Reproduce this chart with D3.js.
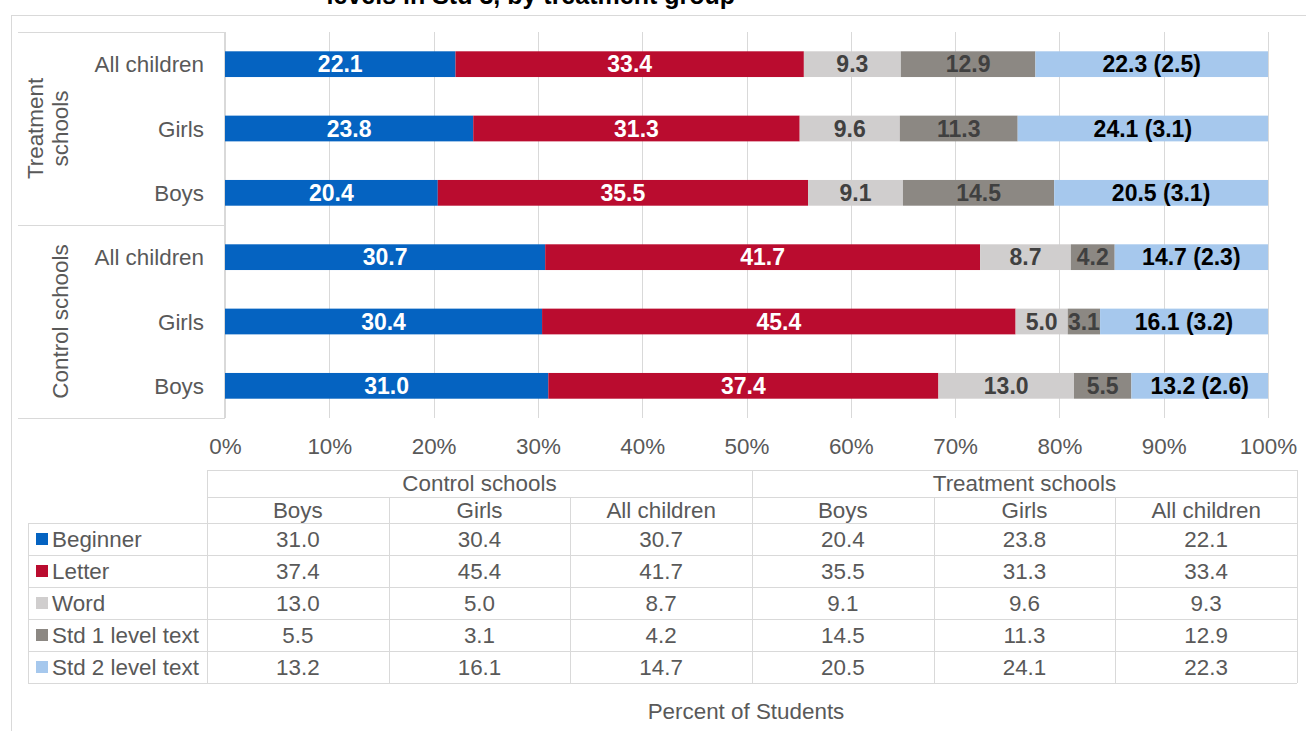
<!DOCTYPE html>
<html>
<head>
<meta charset="utf-8">
<script src="https://cdn.jsdelivr.net/npm/d3@7"></script>
<style>
  html, body { margin: 0; padding: 0; background: #fff; overflow: hidden; }
  svg { display: block; font-family: "Liberation Sans", Arial, sans-serif; }
</style>
</head>
<body>
<svg id="chart" width="1306" height="731"></svg>
<script>
// rows top to bottom
const groups = ["Treatment schools", "Control schools"];
const rowGroups = ["Treatment schools", "Treatment schools", "Treatment schools", "Control schools", "Control schools", "Control schools"];
const rowLabels = ["All children", "Girls", "Boys", "All children", "Girls", "Boys"];

const levels = ["Beginner", "Letter", "Word", "Std 1 level text", "Std 2 level text"];
const levelColors = ["#0563C1", "#BA0C2F", "#D0CECE", "#8C8883", "#A6C8ED"];
const labelColors = ["#ffffff", "#ffffff", "#404040", "#404040", "#000000"];

const beginner = [22.1, 23.8, 20.4, 30.7, 30.4, 31.0];
const letter = [33.4, 31.3, 35.5, 41.7, 45.4, 37.4];
const word = [9.3, 9.6, 9.1, 8.7, 5.0, 13.0];
const std1 = [12.9, 11.3, 14.5, 4.2, 3.1, 5.5];
const std2 = [22.3, 24.1, 20.5, 14.7, 16.1, 13.2];
const std2SE = [2.5, 3.1, 3.1, 2.3, 3.2, 2.6];

const tickValues = [0, 10, 20, 30, 40, 50, 60, 70, 80, 90, 100];

// data table columns (control first, then treatment)
const tableGroups = ["Control schools", "Treatment schools"];
const tableCols = ["Boys", "Girls", "All children", "Boys", "Girls", "All children"];
const tableRowIndex = [5, 4, 3, 2, 1, 0];

const TEXT = "#595959";
const LINE = "#D9D9D9";
const FS = "22.4px";

const series = [beginner, letter, word, std1, std2];
const rows = rowLabels.map((label, i) => {
  const r = { id: i, label: label, group: rowGroups[i], se: std2SE[i] };
  levels.forEach((k, j) => { r[k] = series[j][i]; });
  return r;
});

const svg = d3.select("#chart");

// title, mostly cut off at the top edge
svg.append("text")
  .attr("x", 735).attr("y", 4)
  .attr("text-anchor", "end")
  .attr("font-size", "25px").attr("font-weight", "bold")
  .attr("fill", "#000")
  .text("levels in Std 3, by treatment group");

// outer frame
svg.append("rect")
  .attr("x", 11.5).attr("y", 15.5)
  .attr("width", 1310).attr("height", 730)
  .attr("fill", "none").attr("stroke", LINE);

const x = d3.scaleLinear().domain([0, 100]).range([225, 1268]).clamp(true);
const y = d3.scaleBand().domain(rows.map(r => r.id)).range([32, 418]).paddingInner(0.6).paddingOuter(0.3);

// gridlines
svg.append("g").selectAll("line")
  .data(tickValues)
  .join("line")
  .attr("x1", d => Math.round(x(d)) + 0.5).attr("x2", d => Math.round(x(d)) + 0.5)
  .attr("y1", 32).attr("y2", 418)
  .attr("stroke", LINE);

// category box lines
const box = svg.append("g").attr("stroke", LINE).attr("fill", "none");
box.append("line").attr("x1", 18).attr("x2", 225).attr("y1", 32.5).attr("y2", 32.5);
box.append("line").attr("x1", 18).attr("x2", 225).attr("y1", 225.5).attr("y2", 225.5);
box.append("line").attr("x1", 18).attr("x2", 225).attr("y1", 418.5).attr("y2", 418.5);
box.append("line").attr("x1", 224.5).attr("x2", 224.5).attr("y1", 32).attr("y2", 418);

// stacked bars
const stacked = d3.stack().keys(levels)(rows);

const layer = svg.append("g").selectAll("g")
  .data(stacked)
  .join("g")
  .attr("fill", (d, i) => levelColors[i]);

layer.selectAll("rect")
  .data(d => d)
  .join("rect")
  .attr("x", d => x(d[0]))
  .attr("y", d => y(d.data.id))
  .attr("width", d => x(d[1]) - x(d[0]))
  .attr("height", y.bandwidth());

// bar labels
const labels = svg.append("g")
  .attr("font-size", "23px").attr("font-weight", "bold")
  .attr("text-anchor", "middle");

stacked.forEach((s, i) => {
  labels.append("g")
    .attr("fill", labelColors[i])
    .selectAll("text")
    .data(s)
    .join("text")
    .attr("x", d => (x(d[0]) + x(d[1])) / 2)
    .attr("y", d => y(d.data.id) + y.bandwidth() / 2 + 8)
    .text(d => {
      const v = d.data[levels[i]].toFixed(1);
      return i === 4 ? `${v} (${d.data.se.toFixed(1)})` : v;
    });
});

// row labels
svg.append("g").selectAll("text")
  .data(rows)
  .join("text")
  .attr("x", 204)
  .attr("y", d => y(d.id) + y.bandwidth() / 2 + 8)
  .attr("text-anchor", "end")
  .attr("font-size", FS).attr("fill", TEXT)
  .text(d => d.label);

// group labels, rotated
const groupCenter = g => {
  const ids = rows.filter(r => r.group === g).map(r => r.id);
  return (y(ids[0]) + y(ids[ids.length - 1]) + y.bandwidth()) / 2;
};
const tG = svg.append("text")
  .attr("transform", `translate(0,${groupCenter(groups[0])}) rotate(-90)`)
  .attr("text-anchor", "middle")
  .attr("font-size", FS).attr("fill", TEXT);
tG.append("tspan").attr("x", 0).attr("y", 43).text("Treatment");
tG.append("tspan").attr("x", 0).attr("y", 68).text("schools");

svg.append("text")
  .attr("transform", `translate(0,${groupCenter(groups[1])}) rotate(-90)`)
  .attr("text-anchor", "middle")
  .attr("x", 0).attr("y", 68)
  .attr("font-size", FS).attr("fill", TEXT)
  .text(groups[1]);

// x axis
const xAxis = svg.append("g")
  .attr("transform", "translate(0,418)")
  .call(d3.axisBottom(x).tickValues(tickValues).tickSize(0).tickPadding(20).tickFormat(d => d + "%"));
xAxis.select(".domain").remove();
xAxis.selectAll("text")
  .attr("font-family", "Liberation Sans, Arial, sans-serif")
  .attr("font-size", FS).attr("fill", TEXT);

// data table
const colX = d3.scaleBand().domain(d3.range(tableCols.length)).range([207, 1297]);
const tbl = svg.append("g");
const tLines = tbl.append("g").attr("stroke", LINE).attr("fill", "none");
const rowTop = [470, 497, 523, 555, 587, 619, 651, 683];

// horizontals
tLines.append("line").attr("x1", 207).attr("x2", 1297).attr("y1", rowTop[0] + 0.5).attr("y2", rowTop[0] + 0.5);
tLines.append("line").attr("x1", 207).attr("x2", 1297).attr("y1", rowTop[1] + 0.5).attr("y2", rowTop[1] + 0.5);
for (let i = 2; i < rowTop.length; i++) {
  tLines.append("line").attr("x1", 28).attr("x2", 1297).attr("y1", rowTop[i] + 0.5).attr("y2", rowTop[i] + 0.5);
}
// verticals
tLines.append("line").attr("x1", 28.5).attr("x2", 28.5).attr("y1", rowTop[2]).attr("y2", rowTop[7]);
[0, 3, 6].forEach(c => {
  const xx = Math.round(colX(c) || 1297) + 0.5;
  tLines.append("line").attr("x1", xx).attr("x2", xx).attr("y1", rowTop[0]).attr("y2", rowTop[7]);
});
[1, 2, 4, 5].forEach(c => {
  const xx = Math.round(colX(c)) + 0.5;
  tLines.append("line").attr("x1", xx).attr("x2", xx).attr("y1", rowTop[1]).attr("y2", rowTop[7]);
});

const tText = tbl.append("g").attr("font-size", FS).attr("fill", TEXT).attr("text-anchor", "middle");
tableGroups.forEach((g, gi) => {
  tText.append("text")
    .attr("x", (colX(gi * 3) + colX(gi * 3 + 2) + colX.bandwidth()) / 2)
    .attr("y", rowTop[0] + 21)
    .text(g);
});
tText.selectAll(".colhead")
  .data(tableCols)
  .join("text")
  .attr("class", "colhead")
  .attr("x", (d, i) => colX(i) + colX.bandwidth() / 2)
  .attr("y", rowTop[1] + 21)
  .text(d => d);

levels.forEach((lv, li) => {
  const yy = rowTop[li + 2] + 24;
  tbl.append("rect")
    .attr("x", 36).attr("y", rowTop[li + 2] + 10)
    .attr("width", 12).attr("height", 12)
    .attr("fill", levelColors[li]);
  tbl.append("text")
    .attr("x", 52).attr("y", yy)
    .attr("font-size", FS).attr("fill", TEXT)
    .text(lv);
  tText.append("g").selectAll("text")
    .data(tableRowIndex)
    .join("text")
    .attr("x", (d, i) => colX(i) + colX.bandwidth() / 2)
    .attr("y", yy)
    .text(d => series[li][d].toFixed(1));
});

// axis title
svg.append("text")
  .attr("x", 746).attr("y", 719)
  .attr("text-anchor", "middle")
  .attr("font-size", FS).attr("fill", TEXT)
  .text("Percent of Students");
</script>
</body>
</html>
